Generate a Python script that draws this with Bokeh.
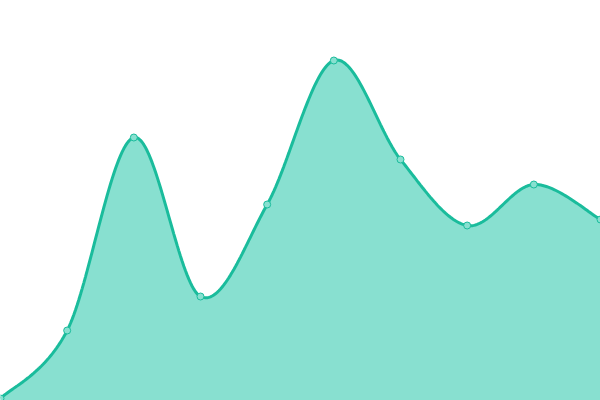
import numpy as np
from bokeh.plotting import figure
from bokeh.models import Range1d
from bokeh.embed import file_html
from bokeh.resources import INLINE

# data
categories = list(range(10))
values = [2, 70, 263, 104, 196, 340, 241, 175, 216, 181]

LINE = "#1abc9c"
FILL = "#88e0d0"

def catmull_rom(xs, ys, n=40):
    xs = np.asarray(xs, float); ys = np.asarray(ys, float)
    px = np.concatenate([[xs[0]], xs, [xs[-1]]])
    py = np.concatenate([[ys[0]], ys, [ys[-1]]])
    ox, oy = [], []
    for i in range(1, len(px) - 2):
        t = np.linspace(0, 1, n, endpoint=False)
        for arr, out in ((px, ox), (py, oy)):
            p0, p1, p2, p3 = arr[i-1], arr[i], arr[i+1], arr[i+2]
            m1 = (p2 - p0) / 2.0
            m2 = (p3 - p1) / 2.0
            h00 = 2*t**3 - 3*t**2 + 1
            h10 = t**3 - 2*t**2 + t
            h01 = -2*t**3 + 3*t**2
            h11 = t**3 - t**2
            out.extend(h00*p1 + h10*m1 + h01*p2 + h11*m2)
    ox.append(xs[-1]); oy.append(ys[-1])
    return np.array(ox), np.array(oy)

sx, sy = catmull_rom(categories, values)

p = figure(width=600, height=400, output_backend="svg", toolbar_location=None,
           x_range=Range1d(0, 9), y_range=Range1d(0, 400),
           min_border=0, min_border_left=0, min_border_right=0,
           min_border_top=0, min_border_bottom=0)
p.axis.visible = False
p.grid.visible = False
p.outline_line_color = None
p.background_fill_color = "white"
p.border_fill_color = "white"

p.varea(x=sx, y1=np.zeros_like(sy), y2=sy, fill_color=FILL, fill_alpha=1)
p.line(sx, sy, line_color=LINE, line_width=3)
p.scatter(categories, values, size=7, fill_color=FILL, line_color=LINE, line_width=1)

open("out.html", "w").write(file_html(p, INLINE))
